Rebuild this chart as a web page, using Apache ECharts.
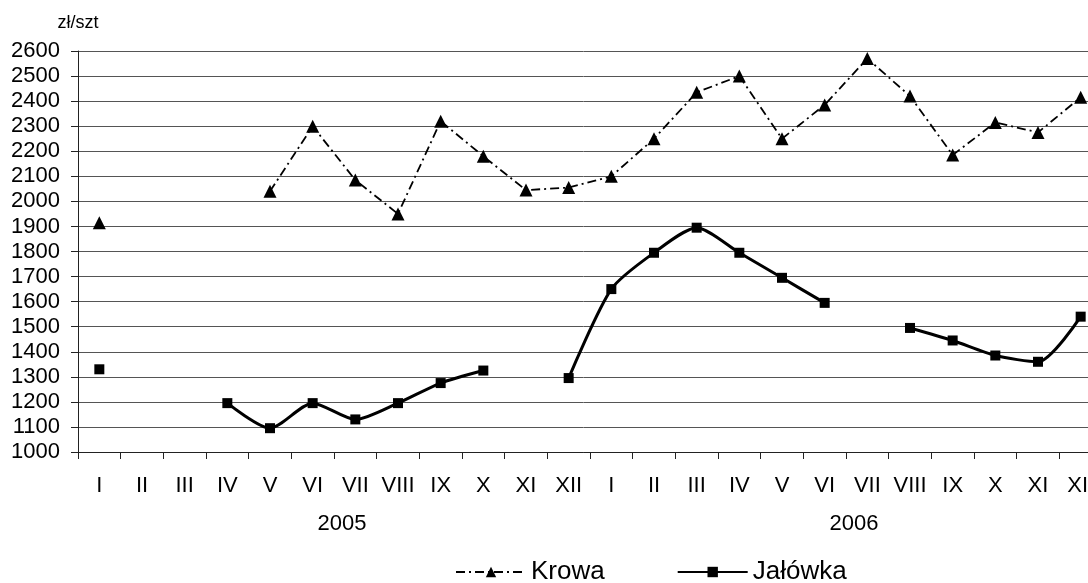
<!DOCTYPE html>
<html>
<head>
<meta charset="utf-8">
<script src="https://cdn.jsdelivr.net/npm/echarts@6/dist/echarts.min.js"></script>
<style>
  html, body { margin: 0; padding: 0; background: #fff; }
  #chart { width: 1088px; height: 583px; }
</style>
</head>
<body>
<div id="chart"></div>
<script>
// miesiące dwóch lat
const months = ['I', 'II', 'III', 'IV', 'V', 'VI', 'VII', 'VIII', 'IX', 'X', 'XI', 'XII',
  'I', 'II', 'III', 'IV', 'V', 'VI', 'VII', 'VIII', 'IX', 'X', 'XI', 'XII']
const years = ['2005', '2006']

// ceny zł/szt (null = brak notowania)
const krowa = [1915, null, null, null, 2040, 2300, 2085, 1950, 2320, 2180, 2045, 2055,
  2100, 2250, 2435, 2500, 2250, 2385, 2570, 2420, 2185, 2315, 2275, 2415]
const jalowka = [1330, null, null, 1195, 1095, 1195, 1130, 1195, 1275, 1325, null, 1295,
  1650, 1795, 1895, 1795, 1695, 1595, null, 1495, 1445, 1385, 1360, 1540]

const yMin = 1000
const yMax = 2600
const yStep = 100

const FONT = '"Liberation Sans", Arial, sans-serif'

const chart = echarts.init(document.getElementById('chart'))

const option = {
  animation: false,
  textStyle: { fontFamily: FONT, color: '#000' },
  grid: {
    left: 78,
    width: 1024, // wykres wychodzi poza prawą krawędź, jak w oryginale
    top: 51,
    bottom: 131,
    containLabel: false,
    outerBoundsMode: 'none'
  },
  legend: {
    left: 450,
    top: 554,
    itemWidth: 70,
    itemHeight: 13,
    itemGap: 72,
    textStyle: { fontFamily: FONT, fontSize: 26, color: '#000' },
    data: ['Krowa', 'Jałówka']
  },
  xAxis: [{
    type: 'category',
    data: months,
    boundaryGap: true,
    axisLine: { show: true, lineStyle: { color: '#222', width: 1 } },
    axisTick: { show: true, length: 7, interval: 0, lineStyle: { color: '#222' } },
    axisLabel: { interval: 0, fontSize: 22, color: '#000', margin: 23, fontFamily: FONT },
    splitLine: { show: false }
  }, {
    type: 'category',
    data: years,
    position: 'bottom',
    offset: 0,
    axisLine: { show: false },
    axisTick: { show: false },
    axisLabel: { fontSize: 22, color: '#000', margin: 61, padding: [0, 0, 0, 16], fontFamily: FONT },
    splitLine: { show: false }
  }],
  yAxis: {
    type: 'value',
    min: yMin,
    max: yMax,
    interval: yStep,
    name: 'zł/szt',
    nameLocation: 'end',
    nameGap: 19,
    nameTextStyle: { fontSize: 18, color: '#000', fontFamily: FONT, align: 'center' },
    axisLine: { show: true, lineStyle: { color: '#222', width: 1 } },
    axisTick: { show: true, length: 7, inside: false, lineStyle: { color: '#222' } },
    axisLabel: { fontSize: 22, color: '#000', margin: 18, fontFamily: FONT, formatter: v => String(v) },
    splitLine: { show: true, lineStyle: { color: '#555', width: 1 } }
  },
  series: [{
    name: 'Krowa',
    type: 'line',
    xAxisIndex: 0,
    data: krowa,
    connectNulls: false,
    showSymbol: true,
    showAllSymbol: true,
    symbol: 'triangle',
    symbolSize: 13,
    itemStyle: { color: '#000' },
    lineStyle: { color: '#000', width: 1.8, type: [9, 4, 2, 4] }
  }, {
    name: 'Jałówka',
    type: 'line',
    xAxisIndex: 0,
    data: jalowka,
    connectNulls: false,
    smooth: 0.25,
    showSymbol: true,
    showAllSymbol: true,
    symbol: 'rect',
    symbolSize: 10,
    itemStyle: { color: '#000' },
    lineStyle: { color: '#000', width: 3 }
  }]
}

chart.setOption(option)
</script>
</body>
</html>
